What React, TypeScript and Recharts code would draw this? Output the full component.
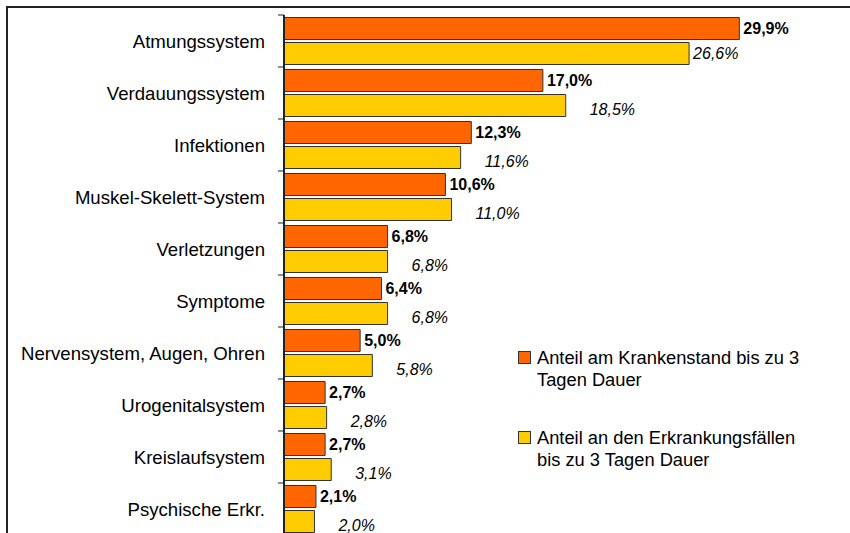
import React from 'react';
import { BarChart, Bar, XAxis, YAxis, LabelList } from 'recharts';

const categories = [
  'Atmungssystem',
  'Verdauungssystem',
  'Infektionen',
  'Muskel-Skelett-System',
  'Verletzungen',
  'Symptome',
  'Nervensystem, Augen, Ohren',
  'Urogenitalsystem',
  'Kreislaufsystem',
  'Psychische Erkr.',
];
const krankenstand = [29.9, 17.0, 12.3, 10.6, 6.8, 6.4, 5.0, 2.7, 2.7, 2.1];
const erkrankungsfaelle = [26.6, 18.5, 11.6, 11.0, 6.8, 6.8, 5.8, 2.8, 3.1, 2.0];
const seriesNames = [
  'Anteil am Krankenstand bis zu 3 Tagen Dauer',
  'Anteil an den Erkrankungsfällen bis zu 3 Tagen Dauer',
];
const seriesColors = ['#FF6600', '#FFCC00'];

const data = categories.map((name, i) => ({
  name,
  krankenstand: krankenstand[i],
  erkrankungsfaelle: erkrankungsfaelle[i],
}));

if (typeof document !== 'undefined') {
  document.body.style.margin = '0';
}

const FONT = '"Liberation Sans", Arial, sans-serif';
const CHART_W = 850;
const CHART_H = 545;
const MARGIN = { top: 15, right: 33, bottom: 10, left: 0 };
const HALF_BAND = (CHART_H - MARGIN.top - MARGIN.bottom) / categories.length / 2;

const fmt = (v: number) => v.toFixed(1).replace('.', ',') + '%';

const CategoryTick = (props: any) => {
  const { x, y, payload } = props;
  return (
    <g>
      <line x1={x} x2={x + 6} y1={y - HALF_BAND} y2={y - HALF_BAND} stroke="#222" strokeWidth={1} />
      <text
        x={x - 13}
        y={y}
        textAnchor="end"
        dominantBaseline="central"
        fontSize={18.6}
        fontFamily={FONT}
        fill="#000"
      >
        {payload.value}
      </text>
    </g>
  );
};

const OrangeLabel = (props: any) => {
  const { x, y, width, height, value } = props;
  return (
    <text
      x={x + width + 4}
      y={y + height / 2}
      dominantBaseline="central"
      fontSize={16}
      fontWeight="bold"
      fontFamily={FONT}
      fill="#000"
    >
      {fmt(value)}
    </text>
  );
};

const YellowLabel = (props: any) => {
  const { x, y, width, height, value, index } = props;
  const first = index === 0;
  return (
    <text
      x={x + width + (first ? 4 : 24)}
      y={y + height / 2 + (first ? 0 : 4)}
      dominantBaseline="central"
      fontSize={16}
      fontStyle="italic"
      fontFamily={FONT}
      fill="#000"
    >
      {fmt(value)}
    </text>
  );
};

export default function App() {
  return (
    <div
      style={{
        position: 'relative',
        width: 850,
        height: 533,
        overflow: 'hidden',
        background: '#fff',
        fontFamily: FONT,
      }}
    >
      <div style={{ position: 'absolute', left: 0, top: 0 }}>
        <BarChart
          width={CHART_W}
          height={CHART_H}
          data={data}
          layout="vertical"
          margin={MARGIN}
          barCategoryGap={2.5}
          barGap={3}
        >
          <XAxis type="number" domain={[0, 35]} hide />
          <YAxis
            type="category"
            dataKey="name"
            width={284}
            axisLine={{ stroke: '#222', strokeWidth: 2 }}
            tickLine={false}
            tickSize={6}
            tickMargin={0}
            tick={<CategoryTick />}
            interval={0}
          />
          <Bar dataKey="krankenstand" name={seriesNames[0]} fill={seriesColors[0]} stroke="#333" strokeWidth={1} isAnimationActive={false}>
            <LabelList dataKey="krankenstand" content={<OrangeLabel />} />
          </Bar>
          <Bar dataKey="erkrankungsfaelle" name={seriesNames[1]} fill={seriesColors[1]} stroke="#333" strokeWidth={1} isAnimationActive={false}>
            <LabelList dataKey="erkrankungsfaelle" content={<YellowLabel />} />
          </Bar>
        </BarChart>
      </div>
      <div style={{ position: 'absolute', left: 518, top: 347, width: 300 }}>
        {seriesNames.map((n, i) => (
          <div key={n} style={{ display: 'flex', alignItems: 'flex-start', marginBottom: 36 }}>
            <div
              style={{
                width: 11,
                height: 11,
                marginTop: 4,
                background: seriesColors[i],
                border: '1px solid #333',
                flex: 'none',
              }}
            />
            <div style={{ marginLeft: 6, width: 275, fontSize: 18.3, lineHeight: '22px', color: '#000' }}>{n}</div>
          </div>
        ))}
      </div>
      <div
        style={{
          position: 'absolute',
          left: 6,
          top: 6,
          width: 900,
          height: 600,
          borderTop: '2px solid #222',
          borderLeft: '2px solid #222',
          boxSizing: 'border-box',
          pointerEvents: 'none',
          zIndex: 5,
        }}
      />
    </div>
  );
}
